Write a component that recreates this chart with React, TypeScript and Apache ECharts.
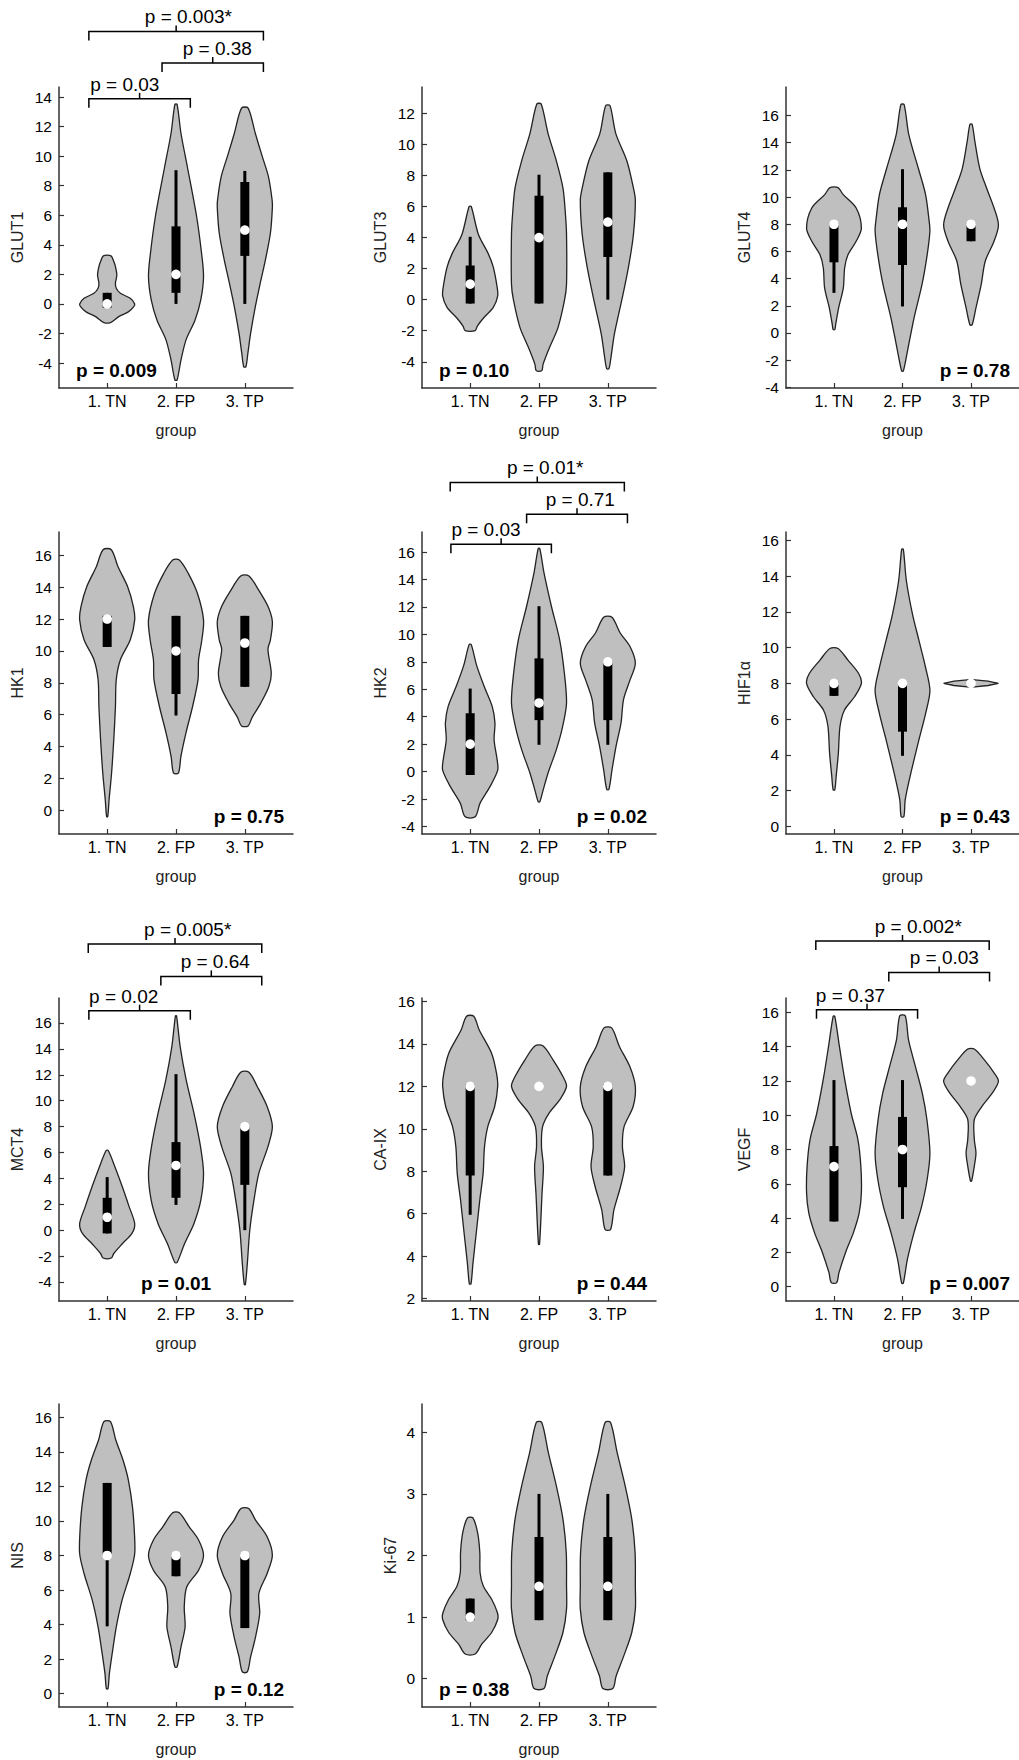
import React, { useEffect, useRef } from "react";
import * as echarts from "echarts";

const groups = ["1. TN", "2. FP", "3. TP"];
const markers = ["GLUT1", "GLUT3", "GLUT4", "HK1", "HK2", "HIF1α", "MCT4", "CA-IX", "VEGF", "NIS", "Ki-67"];
const overallP = ["p = 0.009", "p = 0.10", "p = 0.78", "p = 0.75", "p = 0.02", "p = 0.43", "p = 0.01", "p = 0.44", "p = 0.007", "p = 0.12", "p = 0.38"];
const pPos = ["left", "left", "right", "right", "right", "right", "center", "right", "right", "right", "left"];

const tk = (a: number, b: number, s: number) => { const r: number[] = []; for (let v = a; v <= b + 1e-9; v += s) r.push(v); return r; };
const yTickValues = [tk(-4, 14, 2), tk(-4, 12, 2), tk(-4, 16, 2), tk(0, 16, 2), tk(-4, 16, 2), tk(0, 16, 2), tk(-4, 16, 2), tk(2, 16, 2), tk(0, 16, 2), tk(0, 16, 2), tk(0, 4, 1)];
const yMins = [-5.69, -5.69, -4.05, -1.48, -4.55, -0.42, -5.47, 1.89, -0.84, -0.77, -0.46];
const yMaxs = [14.68, 13.7, 18.1, 17.46, 17.46, 16.46, 17.93, 16.16, 16.84, 16.77, 4.46];

// violin outlines: [y, relative half-width]
const violinGLUT1 = [
  [[-1.26,0.12],[-0.86,0.42],[-0.52,0.78],[-0.2,0.96],[0,1.0],[0.38,0.84],[0.72,0.48],[1.06,0.33],[1.4,0.3],[1.96,0.35],[2.53,0.3],[2.87,0.24],[3.25,0.14]],
  [[-5.15,0.04],[-3.8,0.18],[-2.4,0.37],[-1.1,0.69],[0.27,0.9],[1.85,1.0],[3.4,0.93],[5.9,0.75],[9.3,0.41],[11.55,0.18],[13.5,0.04]],
  [[-4.25,0.04],[-3.35,0.11],[-2,0.21],[-0.2,0.38],[1.4,0.56],[3,0.75],[4.8,0.93],[6.5,1.0],[7.05,0.99],[8.6,0.86],[10,0.63],[11.55,0.38],[13.25,0.12]],
];
const violinGLUT3 = [
  [[-2.0,0.18],[-1.7,0.26],[-1.15,0.5],[-0.5,0.84],[0.25,1.0],[0.8,0.98],[2.1,0.84],[2.95,0.66],[4.2,0.3],[6.0,0.04]],
  [[-4.57,0.1],[-4.15,0.15],[-3.05,0.39],[-1.8,0.69],[0,0.93],[1,1.0],[4.2,1.0],[5.5,0.96],[7.2,0.87],[8.95,0.63],[10.7,0.33],[12.6,0.08]],
  [[-4.45,0.04],[-3.9,0.1],[-2.2,0.24],[0,0.51],[2.1,0.75],[4.2,0.93],[6.4,1.0],[7.2,0.93],[8.95,0.69],[10.7,0.29],[12.5,0.08]],
];
const violinGLUT4 = [
  [[0.25,0.03],[0.6,0.06],[1.85,0.17],[3.3,0.34],[4.8,0.39],[5.75,0.51],[6.75,0.81],[7.7,1.0],[9.2,0.81],[10.2,0.33],[10.7,0.15]],
  [[-2.8,0.03],[-1.35,0.18],[1.1,0.42],[3.55,0.71],[5.75,0.9],[7.5,1.0],[8.45,0.96],[10.2,0.84],[12.1,0.58],[14.6,0.23],[16.8,0.06]],
  [[0.6,0.04],[1.85,0.18],[3.55,0.37],[5.3,0.52],[6.75,0.84],[7.95,1.0],[9.2,0.84],[10.65,0.57],[12.1,0.32],[14.1,0.14],[15.35,0.04]],
];
const violinHK1 = [
  [[-0.4,0.02],[0.67,0.07],[2.35,0.16],[4.45,0.24],[6.5,0.3],[8.2,0.33],[9.45,0.48],[10.7,0.84],[11.95,1.0],[12.8,0.95],[14.0,0.75],[15.3,0.39],[16.35,0.15]],
  [[2.35,0.09],[3.4,0.18],[4.85,0.36],[6.5,0.6],[8.2,0.8],[9.45,0.82],[10.7,0.94],[11.95,1.0],[13.6,0.78],[14.85,0.45],[15.7,0.12]],
  [[5.3,0.12],[5.85,0.27],[6.7,0.57],[7.75,0.87],[8.6,0.96],[10.1,0.84],[10.7,0.93],[11.85,1.0],[12.8,0.84],[13.8,0.51],[14.7,0.15]],
];
const violinHK2 = [
  [[-3.3,0.18],[-2.3,0.36],[-1.1,0.72],[0.1,1.0],[0.85,0.98],[2.3,0.87],[3.55,0.9],[4.75,0.8],[6.2,0.51],[7.7,0.24],[9.25,0.04]],
  [[-2.2,0.03],[-1.35,0.15],[-0.1,0.33],[1.6,0.63],[3.3,0.86],[5.0,1.0],[7.2,0.92],[9.6,0.75],[12.05,0.45],[14.5,0.18],[16.25,0.03]],
  [[-1.3,0.04],[0.1,0.15],[1.85,0.3],[3.55,0.48],[5.25,0.57],[6.7,0.81],[7.9,1.0],[9.1,0.81],[10.1,0.45],[11.25,0.15]],
];
const violinHIF1a = [
  [[2.05,0.03],[2.8,0.08],[4.1,0.16],[5.6,0.22],[6.5,0.38],[7.25,0.75],[8.0,1.0],[8.55,0.9],[9.3,0.51],[9.95,0.15]],
  [[0.55,0.05],[1.5,0.1],[2.95,0.3],[4.85,0.6],[6.3,0.84],[7.6,1.0],[8.9,0.84],[10.4,0.6],[11.9,0.36],[13.75,0.14],[15.5,0.03]],
  [[7.79,0.04],[7.88,0.62],[8.0,1.0],[8.12,0.62],[8.21,0.04]],
];
const violinMCT4 = [
  [[-2.15,0.15],[-1.8,0.24],[-1.05,0.55],[-0.25,0.9],[0.5,1.0],[1.8,0.8],[3.35,0.55],[4.9,0.28],[6.15,0.04]],
  [[-2.5,0.04],[-1.05,0.31],[0.5,0.65],[2.3,0.9],[4.4,1.0],[6.45,0.89],[9.05,0.65],[11.6,0.37],[14.2,0.15],[16.55,0.02]],
  [[-4.2,0.02],[-2.6,0.09],[0,0.18],[2.3,0.33],[4.4,0.51],[6.45,0.84],[8.0,1.0],[9.55,0.81],[11.1,0.45],[12.2,0.15]],
];
const violinCAIX = [
  [[2.7,0.03],[3.65,0.1],[5.2,0.23],[6.65,0.35],[7.9,0.47],[9.15,0.52],[10.1,0.64],[11.05,0.89],[12.0,1.0],[12.6,0.96],[13.55,0.78],[14.65,0.33],[15.3,0.13]],
  [[4.56,0.02],[6.95,0.11],[8.21,0.16],[9.16,0.09],[10.1,0.13],[10.73,0.36],[11.36,0.75],[12.0,1.0],[12.46,0.87],[13.25,0.51],[13.9,0.15]],
  [[5.26,0.1],[6.17,0.22],[7.27,0.46],[8.21,0.61],[9.16,0.53],[10.1,0.59],[11.05,0.92],[11.99,1.0],[12.93,0.8],[13.88,0.42],[14.75,0.14]],
];
const violinVEGF = [
  [[0.23,0.1],[0.8,0.18],[1.98,0.42],[3.15,0.71],[4.3,0.92],[5.48,1.0],[7.03,0.98],[8.6,0.87],[10.1,0.63],[12.1,0.39],[14.0,0.2],[15.77,0.03]],
  [[0.2,0.03],[1.6,0.18],[3.15,0.42],[4.7,0.7],[6.25,0.9],[7.8,1.0],[9.75,0.89],[11.3,0.72],[12.85,0.47],[14.4,0.22],[15.8,0.1]],
  [[6.15,0.02],[7.03,0.12],[7.8,0.18],[8.58,0.12],[9.75,0.12],[10.52,0.4],[11.3,0.78],[11.98,1.0],[12.47,0.84],[13.24,0.48],[13.86,0.12]],
];
const violinNIS = [
  [[0.29,0.03],[1.16,0.08],[2.3,0.18],[3.86,0.33],[5.4,0.54],[6.96,0.84],[8.1,1.0],[9.3,0.99],[10.8,0.92],[12.37,0.77],[13.5,0.58],[14.7,0.31],[15.75,0.12]],
  [[1.55,0.04],[2.7,0.18],[3.86,0.33],[5.02,0.3],[6.18,0.39],[7.15,0.82],[8.02,1.0],[8.9,0.82],[9.66,0.48],[10.47,0.12]],
  [[1.26,0.09],[2.13,0.21],[3.29,0.39],[4.64,0.54],[5.8,0.51],[6.96,0.81],[8.02,1.0],[9.08,0.81],[10.05,0.39],[10.72,0.14]],
];
const violinKi67 = [
  [[0.4,0.18],[0.56,0.42],[0.75,0.78],[0.96,1.0],[1.07,0.99],[1.29,0.78],[1.5,0.48],[1.72,0.36],[2.05,0.35],[2.37,0.27],[2.61,0.1]],
  [[-0.16,0.18],[0.04,0.3],[0.37,0.58],[0.75,0.87],[1.13,1.0],[1.5,1.0],[2.05,0.99],[2.59,0.87],[3.13,0.63],[3.67,0.34],[4.16,0.1]],
  [[-0.16,0.18],[0.04,0.3],[0.37,0.58],[0.75,0.87],[1.13,1.0],[1.5,1.0],[2.05,0.99],[2.59,0.87],[3.13,0.63],[3.67,0.34],[4.16,0.1]],
];
const violins = [violinGLUT1, violinGLUT3, violinGLUT4, violinHK1, violinHK2, violinHIF1a, violinMCT4, violinCAIX, violinVEGF, violinNIS, violinKi67];

// box stats: [whisker low, q1, median, q3, whisker high]
const boxGLUT1 = [[0, -0.25, 0, 0.75, 0.75], [0, 0.75, 2, 5.25, 9.05], [0, 3.25, 5, 8.25, 9.0]];
const boxGLUT3 = [[-0.25, -0.25, 1, 2.2, 4.05], [-0.25, -0.25, 4, 6.7, 8.05], [0, 2.75, 5, 8.2, 8.2]];
const boxGLUT4 = [[2.95, 5.2, 8, 8.1, 8.1], [1.95, 5.0, 8, 9.25, 12.05], [6.75, 6.75, 8, 8.1, 8.1]];
const boxHK1 = [[10.25, 10.25, 12, 12.2, 12.2], [5.95, 7.3, 10, 12.2, 12.2], [7.75, 7.75, 10.5, 12.2, 12.2]];
const boxHK2 = [[-0.25, -0.25, 2, 4.25, 6.05], [1.95, 3.75, 5, 8.25, 12.05], [1.95, 3.75, 8, 8.1, 8.1]];
const boxHIF1a = [[7.3, 7.3, 8, 8.1, 8.1], [3.95, 5.3, 8, 8.1, 8.1], [8, 8, 8, 8, 8]];
const boxMCT4 = [[-0.25, -0.25, 1, 2.5, 4.1], [1.95, 2.5, 5, 6.8, 12.05], [0, 3.5, 8, 8.1, 8.1]];
const boxCAIX = [[5.95, 7.8, 12, 12.1, 12.1], [12, 12, 12, 12, 12], [7.8, 7.8, 12, 12.1, 12.1]];
const boxVEGF = [[3.8, 3.8, 7, 8.2, 12.05], [3.95, 5.8, 8, 9.9, 12.05], [12, 12, 12, 12, 12]];
const boxNIS = [[3.9, 8, 8, 12.2, 12.2], [6.8, 6.8, 8, 8.1, 8.1], [3.8, 3.8, 8, 8.1, 8.1]];
const boxKi67 = [[0.95, 0.95, 1, 1.3, 1.3], [0.95, 0.95, 1.5, 2.3, 3.0], [0.95, 0.95, 1.5, 2.3, 3.0]];
const boxes = [boxGLUT1, boxGLUT3, boxGLUT4, boxHK1, boxHK2, boxHIF1a, boxMCT4, boxCAIX, boxVEGF, boxNIS, boxKi67];

// pairwise brackets: [x from, x to, y level, label x, label]
const bracketsGLUT1 = [[0.734, 2.208, 13.88, 1.256, "p = 0.03"], [1.797, 3.27, 16.3, 2.6, "p = 0.38"], [0.734, 3.27, 18.44, 2.18, "p = 0.003*"]];
const bracketsHK2 = [[0.72, 2.18, 16.56, 1.23, "p = 0.03"], [1.82, 3.285, 18.75, 2.6, "p = 0.71"], [0.71, 3.24, 21.07, 2.09, "p = 0.01*"]];
const bracketsMCT4 = [[0.734, 2.208, 16.95, 1.24, "p = 0.02"], [1.78, 3.246, 19.6, 2.57, "p = 0.64"], [0.725, 3.246, 22.1, 2.17, "p = 0.005*"]];
const bracketsVEGF = [[0.745, 2.22, 16.16, 1.24, "p = 0.37"], [1.8, 3.27, 18.33, 2.61, "p = 0.03"], [0.735, 3.265, 20.17, 2.23, "p = 0.002*"]];
const brackets: any[][] = [bracketsGLUT1, [], [], [], bracketsHK2, [], bracketsMCT4, [], bracketsVEGF, [], []];

// layout
const colLeft = [59, 422, 786];
const rowTop = [87, 532, 998, 1404];
const rowH = [301, 302, 303, 303];
const GRID_W = 234;
const HALF = 0.4;
const FONT = "Liberation Sans, Arial, Helvetica, sans-serif";

function violinRender(panel: number) {
  return (params: any, api: any) => {
    const gi = api.value(0);
    const cx = gi + 1;
    const prof = violins[panel][gi];
    const right = prof.map(([y, w]: number[]) => api.coord([cx + w * HALF, y]));
    const left = prof.slice().reverse().map(([y, w]: number[]) => api.coord([cx - w * HALF, y]));
    const pts = right.concat(left);
    const [lo, q1, med, q3, hi] = boxes[panel][gi];
    const pc = (y: number) => api.coord([cx, y]);
    const thin = prof[prof.length - 1][0] - prof[0][0] < 1;
    const children: any[] = [
      { type: "polygon", shape: { points: pts, smooth: thin ? 0 : 0.3 }, style: { fill: "#bfbfbf", stroke: "#222", lineWidth: 1.3 } },
    ];
    if (hi > lo) {
      const a = pc(lo), b = pc(hi);
      children.push({ type: "line", shape: { x1: a[0], y1: a[1], x2: b[0], y2: b[1] }, style: { stroke: "#000", lineWidth: 3 } });
    }
    if (q3 > q1) {
      const a = pc(q3), b = pc(q1);
      children.push({ type: "rect", shape: { x: a[0] - 4.5, y: a[1], width: 9, height: b[1] - a[1] }, style: { fill: "#000" } });
    }
    const m = pc(med);
    children.push({ type: "circle", shape: { cx: m[0], cy: m[1], r: 4.8 }, style: { fill: "#fff" } });
    return { type: "group", children };
  };
}

function annoRender(panel: number) {
  return (params: any, api: any) => {
    const cs = params.coordSys;
    const children: any[] = [];
    const pos = pPos[panel];
    let tx = 0;
    let align = "left";
    if (pos === "left") { tx = cs.x + 17; align = "left"; }
    else if (pos === "right") { tx = cs.x + cs.width - 9; align = "right"; }
    else { tx = api.coord([2, 0])[0]; align = "center"; }
    children.push({
      type: "text",
      style: { text: overallP[panel], x: tx, y: cs.y + cs.height - 18, align, verticalAlign: "middle", fontSize: 19, fontWeight: "bold", fontFamily: FONT, fill: "#000" },
    });
    for (const br of brackets[panel]) {
      const [x0, x1, yl, lx, label] = br;
      const a = api.coord([x0, yl]);
      const b = api.coord([x1, yl]);
      children.push({ type: "polyline", shape: { points: [[a[0], a[1] + 9], [a[0], a[1]], [b[0], b[1]], [b[0], b[1] + 9]] }, style: { stroke: "#000", lineWidth: 1.5, fill: "none" } });
      const mx = (a[0] + b[0]) / 2;
      children.push({ type: "line", shape: { x1: mx, y1: a[1], x2: mx, y2: a[1] - 6 }, style: { stroke: "#000", lineWidth: 1.5 } });
      const t = api.coord([lx, yl]);
      children.push({ type: "text", style: { text: label, x: t[0], y: t[1] - 14.5, align: "center", verticalAlign: "middle", fontSize: 19, fontFamily: FONT, fill: "#000" } });
    }
    return { type: "group", children };
  };
}

export default function App() {
  const ref = useRef<HTMLDivElement>(null);
  useEffect(() => {
    document.body.style.margin = "0";
    const chart = echarts.init(ref.current!, null, { renderer: "svg" });
    const grid: any[] = [], xAxis: any[] = [], yAxis: any[] = [], series: any[] = [];
    markers.forEach((name, i) => {
      const col = i % 3, row = Math.floor(i / 3);
      grid.push({ left: colLeft[col], top: rowTop[row], width: GRID_W, height: rowH[row] });
      xAxis.push({
        type: "value", gridIndex: i, min: 0.3, max: 3.7,
        name: "group", nameLocation: "middle", nameGap: 34,
        nameTextStyle: { fontSize: 16, color: "#222", fontFamily: FONT },
        axisLine: { onZero: false, lineStyle: { color: "#333", width: 1.5 } },
        axisTick: { inside: true, length: 5, customValues: [1, 2, 3], lineStyle: { color: "#333", width: 1.2 } },
        axisLabel: { customValues: [1, 2, 3], formatter: (v: number) => groups[Math.round(v) - 1], fontSize: 16, color: "#000", margin: 5, fontFamily: FONT },
        splitLine: { show: false },
      });
      yAxis.push({
        type: "value", gridIndex: i, min: yMins[i], max: yMaxs[i],
        name, nameLocation: "middle", nameGap: name === "Ki-67" ? 24 : 34,
        nameTextStyle: { fontSize: 16, color: "#222", fontFamily: FONT },
        axisLine: { show: true, onZero: false, lineStyle: { color: "#333", width: 1.5 } },
        axisTick: { show: true, inside: true, length: 5, customValues: yTickValues[i], lineStyle: { color: "#333", width: 1.2 } },
        axisLabel: { customValues: yTickValues[i], fontSize: 15.5, color: "#000", margin: 7, fontFamily: FONT },
        splitLine: { show: false },
      });
      series.push({
        type: "custom", xAxisIndex: i, yAxisIndex: i, renderItem: violinRender(i),
        data: [[0], [1], [2]], z: 2, silent: true,
      });
      series.push({
        type: "custom", xAxisIndex: i, yAxisIndex: i, renderItem: annoRender(i),
        data: [[0]], z: 3, silent: true,
      });
    });
    chart.setOption({
      animation: false,
      backgroundColor: "#fff",
      textStyle: { fontFamily: FONT },
      grid, xAxis, yAxis, series,
    });
    return () => chart.dispose();
  }, []);
  return <div ref={ref} style={{ width: 1019, height: 1760 }} />;
}
